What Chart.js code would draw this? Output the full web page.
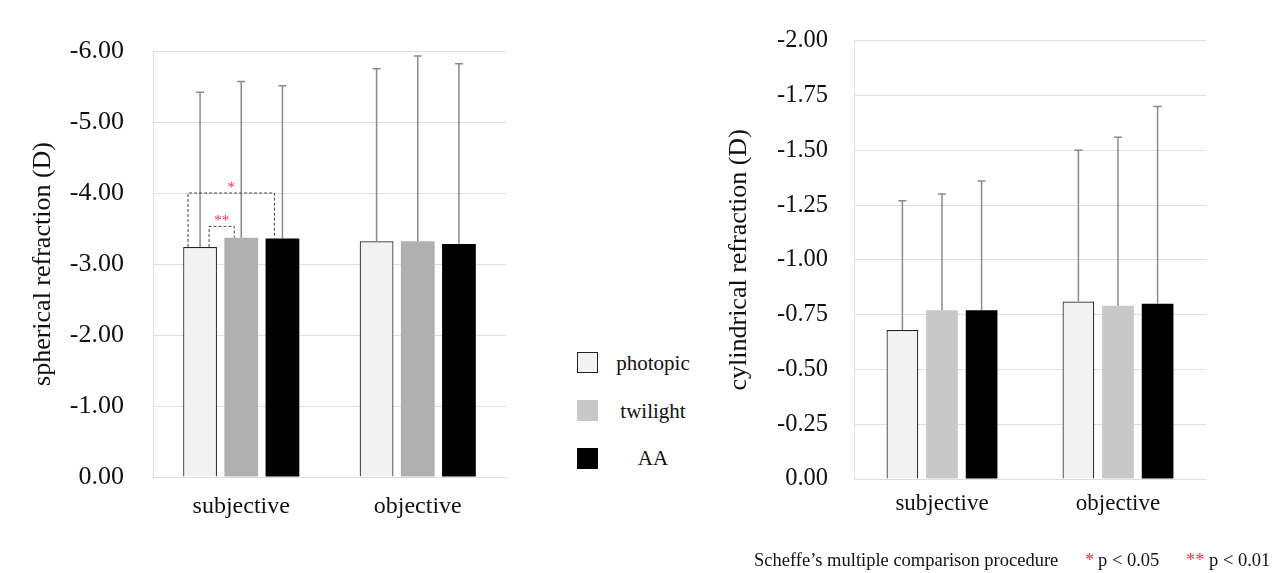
<!DOCTYPE html>
<html>
<head>
<meta charset="utf-8">
<script src="https://cdn.jsdelivr.net/npm/chart.js@4.4.1/dist/chart.umd.min.js"></script>
<style>
  body { margin: 0; background: #fff; }
  #wrap { position: relative; width: 1287px; height: 573px; overflow: hidden; font-family: "Liberation Serif", "Times New Roman", serif; color: #111; }
  canvas { position: absolute; top: 0; }
  #sph-chart { left: 0; }
  #cyl-chart { left: 720px; }
  .sw { position: absolute; left: 577px; width: 21px; height: 21px; box-sizing: border-box; }
  .lg { position: absolute; left: 603px; width: 100px; text-align: center; font-size: 21px; line-height: 24px; }
  .fn { position: absolute; top: 549px; font-size: 18.5px; line-height: 22px; white-space: pre; }
  .red { color: #e8353f; }
</style>
</head>
<body>
<div id="wrap">
  <canvas id="sph-chart" width="530" height="573"></canvas>
  <canvas id="cyl-chart" width="567" height="573"></canvas>

  <div class="sw" style="top:352px; background:#f2f2f2; border:1.5px solid #222;"></div>
  <div class="lg" style="top:351px;">photopic</div>
  <div class="sw" style="top:400px; background:#c8c8c8;"></div>
  <div class="lg" style="top:399px;">twilight</div>
  <div class="sw" style="top:448px; background:#000;"></div>
  <div class="lg" style="top:446px;">AA</div>

  <div class="fn" style="left:754px;">Scheffe’s multiple comparison procedure</div>
  <div class="fn red" style="left:1085px;">*</div>
  <div class="fn" style="left:1098px;">p &lt; 0.05</div>
  <div class="fn red" style="left:1186px;">**</div>
  <div class="fn" style="left:1209px;">p &lt; 0.01</div>
</div>

<script>
/* ===================================
   DATA
   =================================== */
const categories = ["subjective", "objective"];
const seriesNames = ["photopic", "twilight", "AA"];

// spherical refraction (D): mean and SD
const sphPhotopic = [-3.24, -3.32];
const sphTwilight = [-3.37, -3.32];
const sphAA = [-3.36, -3.28];
const sphPhotopicSD = [2.18, 2.43];
const sphTwilightSD = [2.20, 2.61];
const sphAASD = [2.15, 2.54];
const sphTicks = [0, -1, -2, -3, -4, -5, -6];

// cylindrical refraction (D): mean and SD
const cylPhotopic = [-0.68, -0.81];
const cylTwilight = [-0.77, -0.79];
const cylAA = [-0.77, -0.80];
const cylPhotopicSD = [0.59, 0.69];
const cylTwilightSD = [0.53, 0.77];
const cylAASD = [0.59, 0.90];
const cylTicks = [0, -0.25, -0.5, -0.75, -1, -1.25, -1.5, -1.75, -2];

// Scheffe comparisons on the subjective group (dataset indexes)
const sigPairs = [
  { from: 0, to: 2, level: -4.0, label: "*" },
  { from: 0, to: 1, level: -3.53, label: "**" },
];

/* ===================================
   PLUGINS
   =================================== */
const serif = "'Liberation Serif', 'Times New Roman', serif";

const errorBars = {
  id: "errorBars",
  afterDatasetsDraw(chart) {
    const { ctx, scales: { y } } = chart;
    ctx.save();
    ctx.strokeStyle = "#8a8a8a";
    ctx.lineWidth = 1.5;
    chart.data.datasets.forEach((ds, di) => {
      const meta = chart.getDatasetMeta(di);
      meta.data.forEach((bar, i) => {
        const top = y.getPixelForValue(ds.data[i] - ds.sd[i]);
        ctx.beginPath();
        ctx.moveTo(bar.x, bar.y);
        ctx.lineTo(bar.x, top);
        ctx.moveTo(bar.x - 4, top);
        ctx.lineTo(bar.x + 4, top);
        ctx.stroke();
      });
    });
    ctx.restore();
  },
};

const sigBrackets = {
  id: "sigBrackets",
  afterDatasetsDraw(chart) {
    const { ctx, scales: { y } } = chart;
    // where each bracket leg sits relative to the bar centre
    const legs = [[-12, -8], [9, -7]];
    ctx.save();
    sigPairs.forEach((p, k) => {
      const a = chart.getDatasetMeta(p.from).data[0];
      const b = chart.getDatasetMeta(p.to).data[0];
      const x1 = a.x + legs[k][0];
      const x2 = b.x + legs[k][1];
      const yl = y.getPixelForValue(p.level);
      ctx.strokeStyle = "#444";
      ctx.lineWidth = 1;
      ctx.setLineDash([3, 2]);
      ctx.beginPath();
      ctx.moveTo(x1, a.y);
      ctx.lineTo(x1, yl);
      ctx.lineTo(x2, yl);
      ctx.lineTo(x2, b.y);
      ctx.stroke();
      ctx.setLineDash([]);
      ctx.fillStyle = "#e8353f";
      ctx.font = "15px " + serif;
      ctx.textAlign = "center";
      ctx.textBaseline = "middle";
      ctx.fillText(p.label, (x1 + x2) / 2, yl - 5);
    });
    ctx.restore();
  },
};

/* ===================================
   CHART BUILDER
   =================================== */
function buildChart(id, opts) {
  const ctx = document.getElementById(id).getContext("2d");
  const grid = "#dedede";
  const ds = (label, data, sd, fill, border) => ({
    label, data, sd,
    backgroundColor: fill,
    borderColor: border || fill,
    borderWidth: border ? 1.2 : 0,
    categoryPercentage: opts.catPct,
    barPercentage: opts.barPct,
  });

  return new Chart(ctx, {
    type: "bar",
    data: {
      labels: categories,
      datasets: [
        ds(seriesNames[0], opts.series[0], opts.sd[0], "#f2f2f2", "#222"),
        ds(seriesNames[1], opts.series[1], opts.sd[1], opts.twilightColor),
        ds(seriesNames[2], opts.series[2], opts.sd[2], "#000"),
      ],
    },
    options: {
      responsive: false,
      animation: false,
      layout: { padding: opts.padding },
      plugins: {
        legend: { display: false },
        tooltip: { enabled: false },
      },
      scales: {
        x: {
          grid: { display: false },
          border: { display: true, color: grid },
          ticks: { color: "#111", font: { family: serif, size: opts.catSize }, padding: opts.catPad },
          afterFit: (s) => { s.height = 50; },
        },
        y: {
          min: opts.ticks[opts.ticks.length - 1],
          max: 0,
          reverse: true,
          afterBuildTicks: (s) => { s.ticks = opts.ticks.map((v) => ({ value: v })); },
          grid: { color: grid, drawTicks: false, lineWidth: 1 },
          border: { display: true, color: grid },
          ticks: {
            color: "#111",
            font: { family: serif, size: opts.tickSize },
            padding: opts.tickPad,
            callback: (v) => Number(v).toFixed(2),
          },
          title: {
            display: true,
            text: opts.title,
            color: "#111",
            font: { family: serif, size: 26 },
            padding: { top: opts.titlePad, bottom: 0 },
          },
          afterFit: (s) => { s.width = opts.axisWidth; },
        },
      },
    },
    plugins: opts.plugins,
  });
}

buildChart("sph-chart", {
  series: [sphPhotopic, sphTwilight, sphAA],
  sd: [sphPhotopicSD, sphTwilightSD, sphAASD],
  ticks: sphTicks,
  twilightColor: "#b0b0b0",
  title: "spherical refraction (D)",
  padding: { left: 0, right: 24, top: 51, bottom: 46 },
  axisWidth: 153,
  tickSize: 26,
  tickPad: 29,
  titlePad: 28,
  catSize: 24,
  catPad: 7,
  catPct: 0.7,
  barPct: 0.82,
  plugins: [errorBars, sigBrackets],
});

buildChart("cyl-chart", {
  series: [cylPhotopic, cylTwilight, cylAA],
  sd: [cylPhotopicSD, cylTwilightSD, cylAASD],
  ticks: cylTicks,
  twilightColor: "#c8c8c8",
  title: "cylindrical refraction (D)",
  padding: { left: 0, right: 81, top: 39, bottom: 44 },
  axisWidth: 134,
  tickSize: 24.5,
  tickPad: 26,
  titlePad: 4,
  catSize: 23,
  catPad: 3,
  catPct: 0.675,
  barPct: 0.8,
  plugins: [errorBars],
});
</script>
</body>
</html>
